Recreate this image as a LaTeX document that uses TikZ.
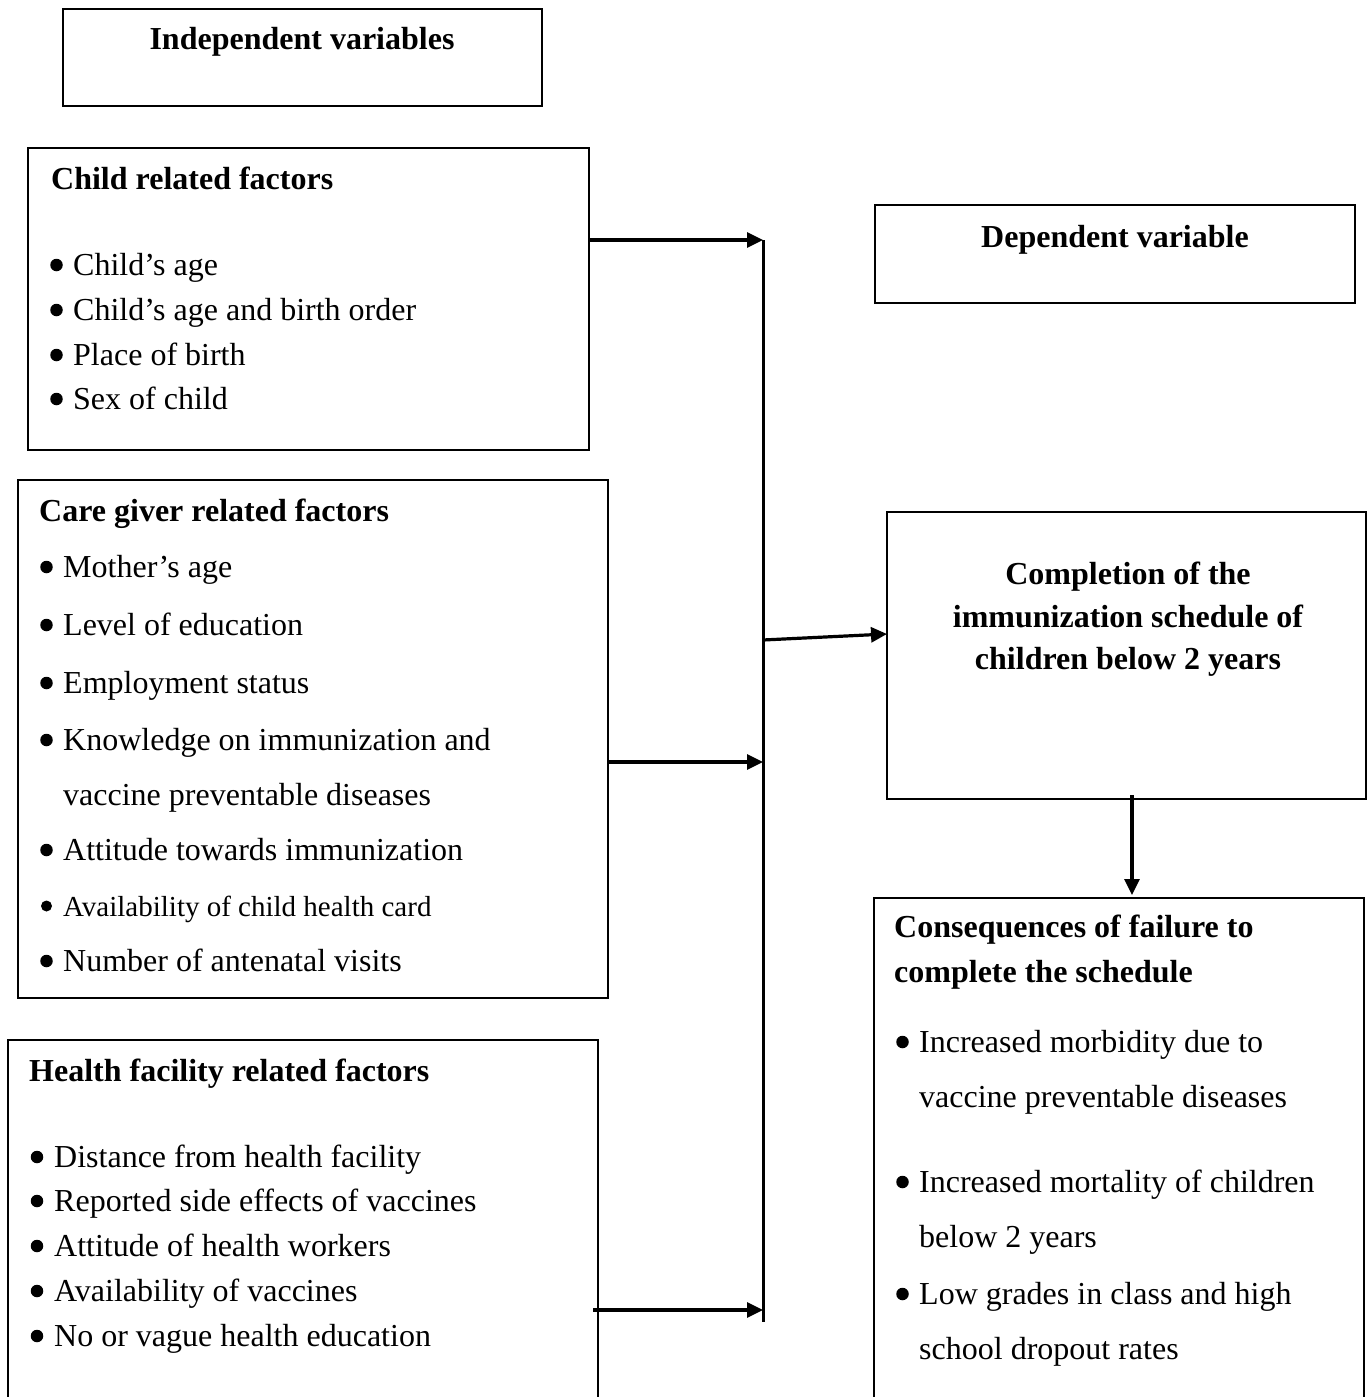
\documentclass[tikz,border=0pt]{standalone}
\usepackage{fontspec}
\setmainfont{Liberation Serif}
\usetikzlibrary{arrows.meta}
\begin{document}
\begin{tikzpicture}[x=1pt,y=-1pt,
  box/.style={draw,line width=2.2pt,anchor=north west,inner sep=0pt,outer sep=0pt},
  txt/.style={anchor=base west,inner sep=0pt,font=\fontsize{32}{38}\selectfont},
  stxt/.style={anchor=base west,inner sep=0pt,font=\fontsize{29}{35}\selectfont},
  btxt/.style={anchor=base west,inner sep=0pt,font=\fontsize{32}{38}\selectfont\bfseries},
  ctxt/.style={anchor=base,inner sep=0pt,font=\fontsize{32}{38}\selectfont\bfseries},
  dot/.style={fill=black,draw=none,circle,inner sep=0pt,minimum size=12.5pt},
  sdot/.style={dot,minimum size=11pt},
  arr/.style={line width=3.2pt,-{Triangle[length=16pt,width=15pt]}},
  bus/.style={line width=3pt}]
\useasboundingbox (0,0) rectangle (1370,1397);
\clip (0,0) rectangle (1370,1397);

% boxes
\node[box,minimum width=479pt,minimum height=97pt] (indep) at (63,9) {};
\node[box,minimum width=561pt,minimum height=302pt] (child) at (28,148) {};
\node[box,minimum width=590pt,minimum height=518pt] (care) at (18,480) {};
\node[box,minimum width=590pt,minimum height=380pt] (health) at (8,1040) {};
\node[box,minimum width=480pt,minimum height=98pt] (dep) at (875,205) {};
\node[box,minimum width=479pt,minimum height=287pt] (comp) at (887,512) {};
\node[box,minimum width=490pt,minimum height=520pt] (cons) at (874,898) {};

% headings
\node[ctxt] (tindep) at (302,50) {Independent variables};
\node[ctxt] (tdep) at (1115,247) {Dependent variable};
\node[ctxt] (tcomp1) at (1128,584) {Completion of the};
\node[ctxt] (tcomp2) at (1128,627) {immunization schedule of};
\node[ctxt] (tcomp3) at (1128,669) {children below 2 years};

% child related factors
\node[btxt] (tchild) at (51,189) {Child related factors};
\foreach \y/\t [count=\i] in {275/Child’s age,320/Child’s age and birth order,365/Place of birth,409/Sex of child}{
  \node[dot] (cb\i) at (56.5,\y-10) {};
  \node[txt] (ct\i) at (73,\y) {\t};
}

% care giver related factors
\node[btxt] (tcare) at (39,521) {Care giver related factors};
\foreach \y/\t [count=\i] in {577/Mother’s age,635/Level of education,693/Employment status,750/Knowledge on immunization and,860/Attitude towards immunization,971/Number of antenatal visits}{
  \node[dot] (gb\i) at (46.5,\y-10) {};
  \node[txt] (gt\i) at (63,\y) {\t};
}
\node[txt] (gt4b) at (63,805) {vaccine preventable diseases};
\node[sdot] (gb7) at (46.5,906) {};
\node[stxt] (gt7) at (63,916) {Availability of child health card};

% health facility related factors
\node[btxt] (thealth) at (29,1081) {Health facility related factors};
\foreach \y/\t [count=\i] in {1167/Distance from health facility,1211/Reported side effects of vaccines,1256/Attitude of health workers,1301/Availability of vaccines,1346/No or vague health education}{
  \node[dot] (hb\i) at (37,\y-10) {};
  \node[txt] (ht\i) at (54,\y) {\t};
}

% consequences
\node[btxt] (tcons1) at (894,937) {Consequences of failure to};
\node[btxt] (tcons2) at (894,982) {complete the schedule};
\foreach \y/\t [count=\i] in {1052/Increased morbidity due to,1192/Increased mortality of children,1304/Low grades in class and high}{
  \node[dot] (sb\i) at (902.5,\y-10) {};
  \node[txt] (st\i) at (919,\y) {\t};
}
\node[txt] (st1b) at (919,1107) {vaccine preventable diseases};
\node[txt] (st2b) at (919,1247) {below 2 years};
\node[txt] (st3b) at (919,1359) {school dropout rates};

% connectors
\coordinate (bt) at (763,240);
\coordinate (bb) at (763,1322);
\coordinate (gj) at (763,762);
\coordinate (hj) at (763,1310);
\coordinate (oj) at (763,640);
\draw[bus] (bt) -- (bb);
\draw[arr] (child.east |- bt) -- (bt);
\draw[arr] (care.east |- gj) -- (gj);
\draw[arr] ([xshift=-5pt]health.east |- hj) -- (hj);
\draw[arr] (oj) -- ([yshift=-122pt]comp.north west);
\draw[arr] ([yshift=4pt]comp.south -| 1132,0) -- ([yshift=3pt]cons.north -| 1132,0);
\end{tikzpicture}
\end{document}
